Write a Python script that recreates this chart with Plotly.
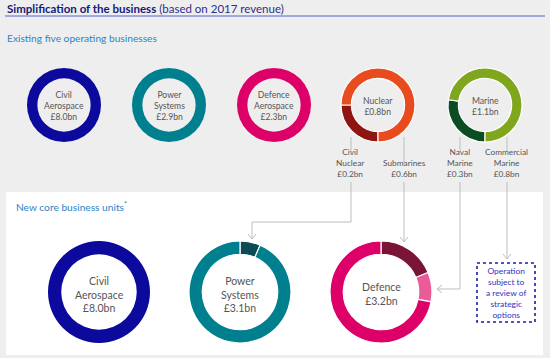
import plotly.graph_objects as go

W, H = 550, 358

# ---------------- data ----------------
top_labels = ["Civil<br>Aerospace", "Power<br>Systems", "Defence<br>Aerospace", "Nuclear", "Marine"]
top_values = [8.0, 2.9, 2.3, 0.8, 1.1]

nuclear_parts = ["Civil Nuclear", "Submarines"]
nuclear_values = [0.2, 0.6]
marine_parts = ["Naval Marine", "Commercial Marine"]
marine_values = [0.3, 0.8]

sub_labels = ["Civil<br>Nuclear", "Submarines", "Naval<br>Marine", "Commercial<br>Marine"]
sub_values = [0.2, 0.6, 0.3, 0.8]

new_labels = ["Civil<br>Aerospace", "Power<br>Systems", "Defence"]
new_values = [8.0, 3.1, 3.2]

power_parts = ["Civil Nuclear", "Power Systems"]
power_values = [0.2, 2.9]
defence_parts = ["Submarines", "Naval Marine", "Defence Aerospace"]
defence_values = [0.6, 0.3, 2.3]

# ---------------- styles ----------------
FONT = "Lato"
BG = "#eeeeee"
C_CIVIL = "#0c0a9c"
C_POWER = "#007f8e"
C_POWER_DK = "#0c4a55"
C_DEF = "#dc0068"
C_DEF_MAROON = "#7b1538"
C_DEF_PINK = "#ea5b98"
C_NUC = "#e84c1e"
C_NUC_DK = "#8f1512"
C_MAR = "#80a61e"
C_MAR_DK = "#0b4c22"
LINE = "#bdbdbd"
TXT = "#555555"


def dom(cx, cy, r):
    return dict(x=[(cx - r) / W, (cx + r) / W], y=[1 - (cy + r) / H, 1 - (cy - r) / H])


fig = go.Figure()

# ---- top row donuts ----
top_cx = [64, 169, 274, 378, 485]
top_cy = 105
top_r = 37
top_series = [
    ([top_labels[0]], [top_values[0]], [C_CIVIL], 0),
    ([top_labels[1]], [top_values[1]], [C_POWER], 0),
    ([top_labels[2]], [top_values[2]], [C_DEF], 0),
    (nuclear_parts, nuclear_values, [C_NUC_DK, C_NUC], 180),
    (marine_parts, marine_values, [C_MAR_DK, C_MAR], 180),
]
for cx, (labs, vals, cols, rot) in zip(top_cx, top_series):
    fig.add_trace(go.Pie(
        labels=labs, values=vals, hole=0.72, sort=False, direction="clockwise",
        rotation=rot, textinfo="none", showlegend=False,
        marker=dict(colors=cols, line=dict(color="white", width=1.2 if len(vals) > 1 else 0)),
        domain=dom(cx, top_cy, top_r),
    ))

# ---- bottom row donuts ----
bot_cx = [99, 240, 381]
bot_cy = 292
bot_r = 51
bot_series = [
    (["Civil Aerospace"], [new_values[0]], [C_CIVIL]),
    (power_parts, power_values, [C_POWER_DK, C_POWER]),
    (defence_parts, defence_values, [C_DEF_MAROON, C_DEF_PINK, C_DEF]),
]
for cx, (labs, vals, cols) in zip(bot_cx, bot_series):
    fig.add_trace(go.Pie(
        labels=labs, values=vals, hole=0.74, sort=False, direction="clockwise",
        rotation=0, textinfo="none", showlegend=False,
        marker=dict(colors=cols, line=dict(color="white", width=1.2 if len(vals) > 1 else 0)),
        domain=dom(cx, bot_cy, bot_r),
    ))

shapes = []
annotations = []

# white panel
shapes.append(dict(type="rect", xref="x", yref="y", x0=6, x1=543, y0=192, y1=355,
                   fillcolor="white", line=dict(width=0), layer="below"))
# header rule
shapes.append(dict(type="line", xref="x", yref="y", x0=5, x1=545, y0=16, y1=16,
                   line=dict(color="#5b63cc", width=1), layer="below"))


def path(points):
    d = "M " + " L ".join(f"{x},{y}" for x, y in points)
    shapes.append(dict(type="path", xref="x", yref="y", path=d,
                       line=dict(color=LINE, width=1), layer="below"))


def arrow_down(x, y):
    path([(x - 4, y - 5), (x, y), (x + 4, y - 5)])


def arrow_left(x, y):
    path([(x + 5, y - 4), (x, y), (x + 5, y + 4)])


# connectors
sub_x = [351, 404, 460, 507]
sub_top_end = [152, 164, 152, 152]
for x, ye in zip(sub_x, sub_top_end):
    path([(x, 137), (x, ye)])
# civil nuclear -> power systems
path([(351, 182), (351, 222), (252, 222), (252, 239)])
arrow_down(252, 239)
# submarines -> defence
path([(404, 182), (404, 242)])
arrow_down(404, 242)
# naval marine -> defence
path([(460, 182), (460, 289), (437, 289)])
arrow_left(437, 289)
# commercial marine -> box
path([(507, 182), (507, 259)])
arrow_down(507, 259)

# dotted box
shapes.append(dict(type="rect", xref="x", yref="y", x0=477, x1=535, y0=263, y1=322,
                   line=dict(color="#1b1ba8", width=1.6, dash="dot"), fillcolor="rgba(0,0,0,0)"))

# ---- texts ----
annotations.append(dict(
    x=5, y=8, xref="x", yref="y", xanchor="left", yanchor="middle", showarrow=False,
    text="<b>Simplification of the business</b> <span style='color:#2b2f8c'>(based on 2017 revenue)</span>",
    font=dict(family=FONT, size=11.5, color="#151a7a")))
annotations.append(dict(
    x=5, y=38, xref="x", yref="y", xanchor="left", yanchor="middle", showarrow=False,
    text="Existing five operating businesses", font=dict(family=FONT, size=10.2, color="#2c84c6")))
annotations.append(dict(
    x=14, y=206, xref="x", yref="y", xanchor="left", yanchor="middle", showarrow=False,
    text="New core business units<sup>*</sup>", font=dict(family=FONT, size=10.2, color="#2c84c6")))

for cx, lab, v in zip(top_cx, top_labels, top_values):
    annotations.append(dict(
        x=cx, y=top_cy + 1, xref="x", yref="y", xanchor="center", yanchor="middle", showarrow=False,
        text=f"{lab}<br>£{v:.1f}bn", font=dict(family=FONT, size=8.6, color=TXT)))

for cx, lab, v in zip(bot_cx, new_labels, new_values):
    annotations.append(dict(
        x=cx, y=bot_cy + 2, xref="x", yref="y", xanchor="center", yanchor="middle", showarrow=False,
        text=f"{lab}<br>£{v:.1f}bn", font=dict(family=FONT, size=10.5, color=TXT)))

sub_text_x = [350, 404, 460, 506]
for x, lab, v in zip(sub_text_x, sub_labels, sub_values):
    annotations.append(dict(
        x=x, y=181, xref="x", yref="y", xanchor="center", yanchor="bottom", showarrow=False,
        text=f"{lab}<br>£{v:.1f}bn", font=dict(family=FONT, size=8.3, color=TXT)))

annotations.append(dict(
    x=506, y=293, xref="x", yref="y", xanchor="center", yanchor="middle", showarrow=False,
    text="Operation<br>subject to<br>a review of<br>strategic<br>options",
    font=dict(family=FONT, size=8.4, color="#2f34c4")))

fig.update_layout(
    width=W, height=H, autosize=False,
    margin=dict(l=0, r=0, t=0, b=0),
    paper_bgcolor=BG, plot_bgcolor="rgba(0,0,0,0)",
    xaxis=dict(range=[0, W], visible=False, fixedrange=True),
    yaxis=dict(range=[H, 0], visible=False, fixedrange=True),
    shapes=shapes, annotations=annotations,
)

fig.write_html(
    "out.html",
    config={"displayModeBar": False},
    post_script="document.body.style.margin='0';document.body.style.background='#eeeeee';",
)
